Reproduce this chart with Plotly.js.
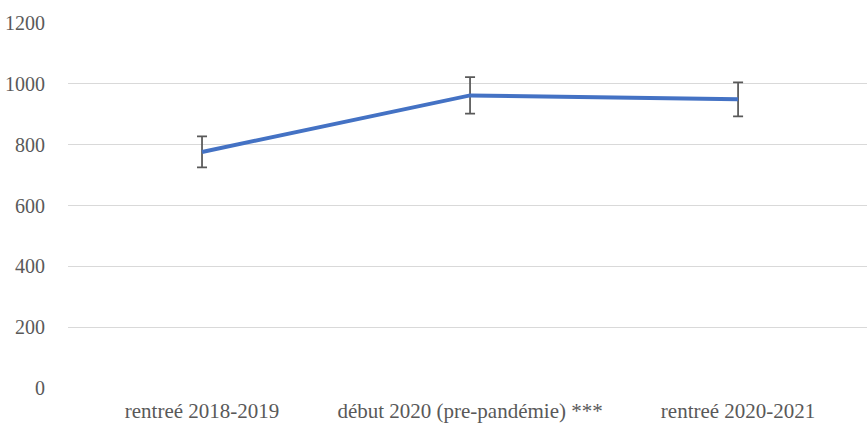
<!DOCTYPE html>
<html><head><meta charset="utf-8">
<script src="https://cdn.plot.ly/plotly-3.0.1.min.js"></script>
<style>html,body{margin:0;padding:0;background:#fff}#c{width:867px;height:423px}</style>
</head><body><div id="c"></div>
<script>
const categories = ["rentreé 2018-2019", "début 2020 (pre-pandémie) ***", "rentreé 2020-2021"];
const values = [776, 962, 949];
const errors = [51, 60, 56];
const yTicks = [0, 200, 400, 600, 800, 1000, 1200];

const yfnt = {family: 'Liberation Serif, Times New Roman, serif', size: 20, color: '#595959'};
const xfnt = {family: 'Liberation Serif, Times New Roman, serif', size: 21, color: '#595959'};
Plotly.newPlot('c', [{
  x: [0, 1, 2], y: values, type: 'scatter', mode: 'lines',
  line: {color: '#4472C4', width: 4},
  error_y: {type: 'data', array: errors, visible: true, color: '#595959', thickness: 1.75, width: 5}
}], {
  width: 867, height: 423,
  margin: {l: 68, r: 0, t: 23, b: 35},
  paper_bgcolor: '#fff', plot_bgcolor: '#fff',
  font: yfnt,
  showlegend: false,
  xaxis: {range: [-0.5, 2.481], tickvals: [0, 1, 2], ticktext: categories, showgrid: false, zeroline: false,
          showline: false, ticks: 'outside', ticklen: 4, tickcolor: 'rgba(0,0,0,0)', tickfont: xfnt, automargin: false},
  yaxis: {range: [0, 1200], tickvals: yTicks, showgrid: true, gridcolor: '#d9d9d9', gridwidth: 1,
          zeroline: false, showline: false, ticks: 'outside', ticklen: 18, tickcolor: 'rgba(0,0,0,0)', tickfont: yfnt, automargin: false}
}, {displayModeBar: false, staticPlot: true});
</script></body></html>
